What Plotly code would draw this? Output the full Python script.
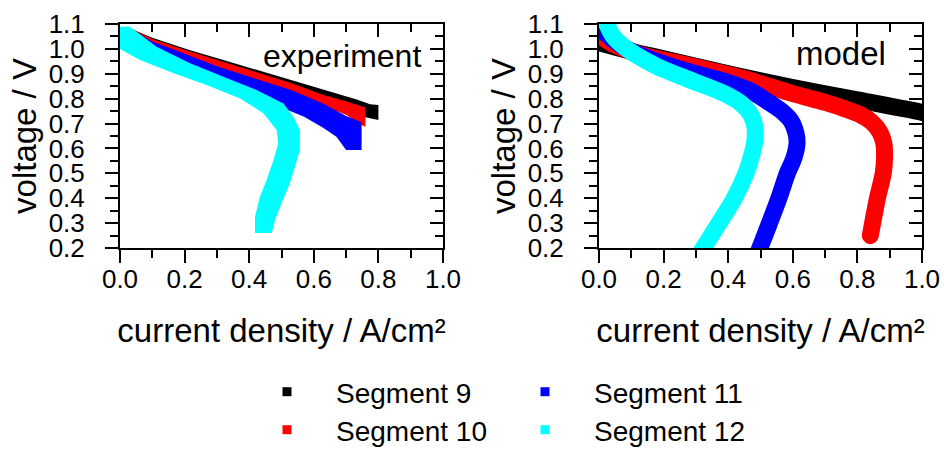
import plotly.graph_objects as go

# ---------------- data ----------------
# Experiment: measured polarization bands (upper / lower envelope), current density in A/cm², voltage in V
seg9_exp_up_j = [0.02, 0.03, 0.10, 0.217, 0.32, 0.426, 0.53, 0.63, 0.733, 0.774, 0.80]
seg9_exp_up_v = [1.09, 1.083, 1.045, 0.995, 0.955, 0.915, 0.875, 0.835, 0.797, 0.778, 0.775]
seg9_exp_lo_j = [0.80, 0.76, 0.70, 0.60, 0.50, 0.40, 0.30, 0.20, 0.10, 0.03, 0.02]
seg9_exp_lo_v = [0.714, 0.725, 0.76, 0.80, 0.84, 0.88, 0.93, 0.975, 1.025, 1.075, 1.09]

seg10_exp_up_j = [0.02, 0.10, 0.217, 0.32, 0.426, 0.53, 0.63, 0.70, 0.74, 0.76]
seg10_exp_up_v = [1.09, 1.04, 0.99, 0.947, 0.905, 0.863, 0.815, 0.79, 0.772, 0.765]
seg10_exp_lo_j = [0.76, 0.745, 0.70, 0.60, 0.50, 0.40, 0.30, 0.20, 0.10, 0.03, 0.02]
seg10_exp_lo_v = [0.687, 0.695, 0.735, 0.785, 0.83, 0.875, 0.92, 0.965, 1.02, 1.078, 1.09]

seg11_exp_up_j = [0.02, 0.10, 0.20, 0.30, 0.42, 0.53, 0.63, 0.70, 0.748]
seg11_exp_up_v = [1.09, 1.03, 0.98, 0.93, 0.88, 0.835, 0.78, 0.73, 0.705]
seg11_exp_lo_j = [0.748, 0.70, 0.67, 0.63, 0.57, 0.50, 0.40, 0.30, 0.20, 0.10, 0.03, 0.02]
seg11_exp_lo_v = [0.594, 0.594, 0.647, 0.682, 0.727, 0.765, 0.82, 0.87, 0.92, 0.98, 1.07, 1.09]

seg12_exp_up_j = [0.0, 0.031, 0.113, 0.217, 0.32, 0.423, 0.506, 0.537, 0.557, 0.557, 0.542, 0.526, 0.50, 0.48, 0.47]
seg12_exp_up_v = [1.089, 1.089, 1.009, 0.942, 0.888, 0.835, 0.781, 0.727, 0.674, 0.594, 0.527, 0.46, 0.38, 0.312, 0.26]
seg12_exp_lo_j = [0.418, 0.418, 0.433, 0.454, 0.475, 0.49, 0.485, 0.444, 0.372, 0.268, 0.164, 0.062, 0.0]
seg12_exp_lo_v = [0.26, 0.326, 0.406, 0.473, 0.553, 0.62, 0.674, 0.741, 0.801, 0.855, 0.903, 0.955, 1.0]

# Model: simulated polarization curves (centre line)
seg9_mod_j = [0.0, 0.10, 0.20, 0.40, 0.60, 0.80, 1.00, 1.05]
seg9_mod_v = [1.025, 0.99, 0.96, 0.90, 0.845, 0.795, 0.745, 0.73]

seg10_mod_j = [0.0, 0.05, 0.12, 0.20, 0.323, 0.45, 0.60, 0.70, 0.76, 0.81, 0.845, 0.87, 0.882, 0.884, 0.88, 0.862, 0.85, 0.84]
seg10_mod_v = [1.055, 1.015, 0.98, 0.955, 0.92, 0.88, 0.82, 0.785, 0.76, 0.735, 0.705, 0.665, 0.62, 0.56, 0.50, 0.40, 0.32, 0.25]

seg11_mod_j = [0.0, 0.04, 0.10, 0.20, 0.30, 0.40, 0.47, 0.52, 0.565, 0.595, 0.61, 0.613, 0.603, 0.583, 0.557, 0.528, 0.498, 0.485]
seg11_mod_v = [1.09, 1.04, 0.99, 0.94, 0.90, 0.865, 0.83, 0.79, 0.75, 0.71, 0.66, 0.62, 0.56, 0.50, 0.40, 0.30, 0.20, 0.15]

seg12_mod_j = [0.015, 0.024, 0.044, 0.086, 0.179, 0.282, 0.385, 0.44, 0.47, 0.483, 0.482, 0.47, 0.455, 0.419, 0.372, 0.323, 0.30]
seg12_mod_v = [1.13, 1.10, 1.05, 1.00, 0.93, 0.875, 0.822, 0.78, 0.735, 0.685, 0.625, 0.56, 0.50, 0.40, 0.30, 0.20, 0.15]

segment_names = ["Segment 9", "Segment 10", "Segment 11", "Segment 12"]
segment_colors = ["#000000", "#ff0000", "#0000ff", "#00ffff"]

x_tick_vals = [0.0, 0.2, 0.4, 0.6, 0.8, 1.0]
y_tick_vals = [0.2, 0.3, 0.4, 0.5, 0.6, 0.7, 0.8, 0.9, 1.0, 1.1]

# ---------------- figure ----------------
FONT = "Liberation Sans, Arial, sans-serif"
W, H = 944, 451

exp_bands = [
    (seg9_exp_up_j, seg9_exp_up_v, seg9_exp_lo_j, seg9_exp_lo_v),
    (seg10_exp_up_j, seg10_exp_up_v, seg10_exp_lo_j, seg10_exp_lo_v),
    (seg11_exp_up_j, seg11_exp_up_v, seg11_exp_lo_j, seg11_exp_lo_v),
    (seg12_exp_up_j, seg12_exp_up_v, seg12_exp_lo_j, seg12_exp_lo_v),
]
mod_curves = [
    (seg9_mod_j, seg9_mod_v),
    (seg10_mod_j, seg10_mod_v),
    (seg11_mod_j, seg11_mod_v),
    (seg12_mod_j, seg12_mod_v),
]

fig = go.Figure()

for (uj, uv, lj, lv), color in zip(exp_bands, segment_colors):
    fig.add_trace(go.Scatter(
        x=uj + lj, y=uv + lv, mode="lines", fill="toself",
        fillcolor=color, line=dict(width=0, color=color),
        showlegend=False, hoverinfo="skip", xaxis="x", yaxis="y",
    ))

for (mj, mv), color in zip(mod_curves, segment_colors):
    fig.add_trace(go.Scatter(
        x=mj, y=mv, mode="lines",
        line=dict(width=17, color=color, shape="spline", smoothing=0.8),
        showlegend=False, hoverinfo="skip", xaxis="x2", yaxis="y2",
    ))

# legend entries: one small legend per segment, laid out as 2 x 2
legend_ids = ["legend", "legend2", "legend3", "legend4"]
for name, color, lid in zip(segment_names, segment_colors, legend_ids):
    fig.add_trace(go.Scatter(
        x=[None], y=[None], mode="markers", name=name,
        marker=dict(symbol="square", size=9, color=color),
        legend=lid, xaxis="x", yaxis="y",
    ))

# empty traces that host the inner tick axes on top / right
for xa, ya in (("x3", "y3"), ("x4", "y4")):
    fig.add_trace(go.Scatter(x=[], y=[], xaxis=xa, yaxis=ya,
                             showlegend=False, hoverinfo="skip"))


def px_x(p):
    return p / W


def px_y(p):
    return 1 - p / H


left_dom = [px_x(120), px_x(443)]
right_dom = [px_x(599), px_x(922)]
y_dom = [px_y(248), px_y(24)]

tick_font = dict(family=FONT, size=26, color="black")
title_font = dict(family=FONT, size=33, color="black")


def main_x(domain, anchor):
    return dict(
        domain=domain, anchor=anchor, range=[0, 1], automargin=False,
        tickmode="array", tickvals=x_tick_vals, tickformat=".1f",
        ticks="outside", ticklen=13, tickwidth=2, tickcolor="black",
        minor=dict(dtick=0.1, tick0=0, ticks="outside", ticklen=8,
                   tickwidth=2, tickcolor="black"),
        showline=True, linewidth=2, linecolor="black", mirror=True,
        showgrid=False, zeroline=False, tickfont=tick_font,
        ticklabelstandoff=-6,
        title=dict(text="current density / A/cm²", font=title_font, standoff=26),
    )


def main_y(domain, anchor):
    return dict(
        domain=domain, anchor=anchor, range=[0.2, 1.1], automargin=False,
        tickmode="array", tickvals=y_tick_vals, tickformat=".1f",
        ticks="outside", ticklen=13, tickwidth=2, tickcolor="black",
        minor=dict(dtick=0.05, tick0=0.2, ticks="outside", ticklen=8,
                   tickwidth=2, tickcolor="black"),
        showline=True, linewidth=2, linecolor="black", mirror=True,
        showgrid=False, zeroline=False, tickfont=tick_font,
        ticklabelstandoff=15,
        title=dict(text="voltage / V", font=title_font, standoff=2),
    )


def inner_x(over, anchor):
    return dict(
        overlaying=over, anchor=anchor, side="top", range=[0, 1], automargin=False,
        tickmode="array", tickvals=x_tick_vals, showticklabels=False,
        ticks="inside", ticklen=13, tickwidth=2, tickcolor="black",
        minor=dict(dtick=0.1, tick0=0, ticks="inside", ticklen=8,
                   tickwidth=2, tickcolor="black"),
        showline=False, showgrid=False, zeroline=False,
    )


def inner_y(over, anchor):
    return dict(
        overlaying=over, anchor=anchor, side="right", range=[0.2, 1.1], automargin=False,
        tickmode="array", tickvals=y_tick_vals, showticklabels=False,
        ticks="inside", ticklen=13, tickwidth=2, tickcolor="black",
        minor=dict(dtick=0.05, tick0=0.2, ticks="inside", ticklen=8,
                   tickwidth=2, tickcolor="black"),
        showline=False, showgrid=False, zeroline=False,
    )


def legend_box(xpx, ypx):
    return dict(
        x=px_x(xpx), y=px_y(ypx), xanchor="left", yanchor="middle",
        orientation="v", font=dict(family=FONT, size=28, color="black"),
        bgcolor="rgba(0,0,0,0)", itemwidth=88, tracegroupgap=0,
    )


fig.update_layout(
    width=W, height=H,
    margin=dict(l=0, r=0, t=0, b=0, autoexpand=False),
    paper_bgcolor="white", plot_bgcolor="white",
    font=dict(family=FONT, color="black"),
    xaxis=main_x(left_dom, "y"),
    yaxis=main_y(y_dom, "x"),
    xaxis2=main_x(right_dom, "y2"),
    yaxis2=main_y(y_dom, "x2"),
    xaxis3=inner_x("x", "y"),
    yaxis3=inner_y("y", "x"),
    xaxis4=inner_x("x2", "y2"),
    yaxis4=inner_y("y2", "x2"),
    legend=legend_box(238, 392),
    legend2=legend_box(238, 430),
    legend3=legend_box(496, 392),
    legend4=legend_box(496, 430),
    annotations=[
        dict(text="experiment", x=423, y=56, xref="paper", yref="paper",
             xanchor="right", yanchor="middle", showarrow=False,
             font=dict(family=FONT, size=32, color="black")),
        dict(text="model", x=888, y=53, xref="paper", yref="paper",
             xanchor="right", yanchor="middle", showarrow=False,
             font=dict(family=FONT, size=33, color="black")),
    ],
    showlegend=True,
)

# annotation anchors given in pixels -> paper fractions
for ann in fig.layout.annotations:
    ann.x = px_x(ann.x)
    ann.y = px_y(ann.y)

fig.write_html(
    "out.html",
    post_script=(
        "document.querySelectorAll('.scatterlayer .js-line').forEach(function(p){"
        "p.style.strokeLinecap='round';p.style.strokeLinejoin='round';});"
    ),
)
